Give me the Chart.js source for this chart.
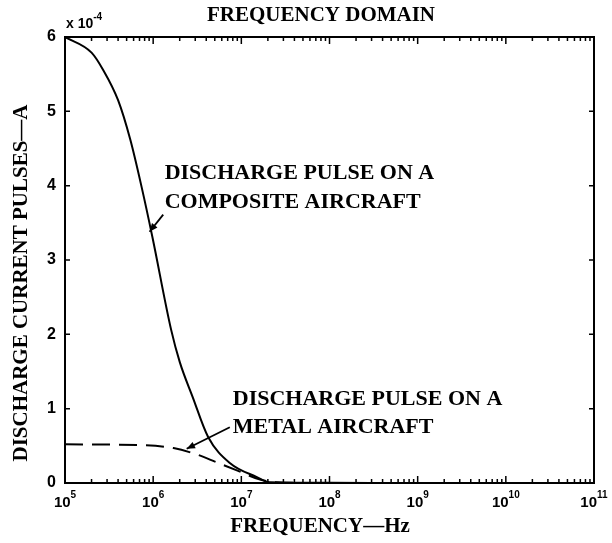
<!DOCTYPE html>
<html>
<head>
<meta charset="utf-8">
<script src="https://cdn.jsdelivr.net/npm/chart.js@4/dist/chart.umd.min.js"></script>
<style>
  body { margin: 0; background: #fff; }
  canvas { display: block; }
</style>
</head>
<body>
<canvas id="chart" width="612" height="543"></canvas>
<script>
// values (current in units of 1e-4 A)
const compositeFreq = [1e5, 2.0e5, 2.7e5, 4.0e5, 5.5e5, 7.4e5, 9.8e5, 1.6e6, 2.0e6, 2.8e6, 4.2e6, 7.4e6, 1.5e7, 2.1e7, 1e8, 1e9, 1e10, 1e11];
const compositeCurrent = [6.0, 5.79, 5.56, 5.15, 4.62, 3.98, 3.31, 2.06, 1.63, 1.16, 0.62, 0.27, 0.08, 0.01, 0.003, 0, 0, 0];

const metalFreq = [1e5, 7e5, 1.7e6, 3.2e6, 5.2e6, 8.9e6, 1.7e7, 3e7, 1e8, 1e9, 1e10, 1e11];
const metalCurrent = [0.52, 0.51, 0.47, 0.38, 0.28, 0.17, 0.04, 0.005, 0, 0, 0, 0];

const decades = [1e5, 1e6, 1e7, 1e8, 1e9, 1e10, 1e11];
const decadeExp = [5, 6, 7, 8, 9, 10, 11];
const yTicks = [0, 1, 2, 3, 4, 5, 6];

const titleText = 'FREQUENCY DOMAIN';
const xTitle = 'FREQUENCY\u2014Hz';
const yTitle = 'DISCHARGE CURRENT PULSES\u2014A';

// annotation text: anchor [freq, current] for left/middle of each line
const notes = [
  { lines: ['DISCHARGE PULSE ON A', 'COMPOSITE AIRCRAFT'], at: [[1.35e6, 4.17], [1.35e6, 3.77]],
    arrow: [[1.3e6, 3.61], [9.1e5, 3.38]] },
  { lines: ['DISCHARGE PULSE ON A', 'METAL AIRCRAFT'], at: [[8.0e6, 1.12], [8.0e6, 0.75]],
    arrow: [[7.4e6, 0.75], [2.4e6, 0.46]] }
];

const serif = "'Liberation Serif', 'Times New Roman', serif";
const sans = "'Liberation Sans Narrow', 'Liberation Sans', Arial, sans-serif";

const decor = {
  id: 'decor',
  afterDatasetsDraw(chart) {
    const ctx = chart.ctx;
    const a = chart.chartArea;
    const xs = chart.scales.x, ys = chart.scales.y;
    ctx.save();
    ctx.strokeStyle = '#000';
    ctx.fillStyle = '#000';

    // inward tick marks
    ctx.lineWidth = 1.5;
    ctx.beginPath();
    xs.ticks.forEach(t => {
      const px = xs.getPixelForValue(t.value);
      const len = t.major ? 7 : 4;
      ctx.moveTo(px, a.bottom); ctx.lineTo(px, a.bottom - len);
      ctx.moveTo(px, a.top); ctx.lineTo(px, a.top + len);
    });
    ys.ticks.forEach(t => {
      const py = ys.getPixelForValue(t.value);
      ctx.moveTo(a.left, py); ctx.lineTo(a.left + 5, py);
      ctx.moveTo(a.right, py); ctx.lineTo(a.right - 5, py);
    });
    ctx.stroke();

    // frame
    ctx.lineWidth = 2;
    ctx.strokeRect(a.left, a.top, a.right - a.left, a.bottom - a.top);

    // x tick labels: 10 with raised exponent
    ctx.textBaseline = 'alphabetic';
    ctx.textAlign = 'left';
    decades.forEach((d, i) => {
      const px = xs.getPixelForValue(d);
      ctx.font = 'bold 15px ' + sans;
      const wb = ctx.measureText('10').width;
      ctx.font = 'bold 10px ' + sans;
      const we = ctx.measureText(String(decadeExp[i])).width;
      const x0 = px - (wb + we) / 2;
      ctx.font = 'bold 15px ' + sans;
      ctx.fillText('10', x0, 507);
      ctx.font = 'bold 10px ' + sans;
      ctx.fillText(String(decadeExp[i]), x0 + wb, 498);
    });

    // title and axis titles
    ctx.font = 'bold 21px ' + serif;
    ctx.textAlign = 'center';
    ctx.textBaseline = 'middle';
    ctx.fillText(titleText, 321, 16);
    ctx.fillText(xTitle, 320, 527);
    ctx.save();
    ctx.translate(22, 283);
    ctx.rotate(-Math.PI / 2);
    ctx.fillText(yTitle, 0, 0);
    ctx.restore();

    // exponent marker
    ctx.textAlign = 'left';
    ctx.font = 'bold 14px ' + sans;
    ctx.fillText('x 10', a.left + 1, 24);
    const w = ctx.measureText('x 10').width;
    ctx.font = 'bold 10px ' + sans;
    ctx.fillText('-4', a.left + 1 + w, 17);

    // annotations
    ctx.font = 'bold 22px ' + serif;
    ctx.textAlign = 'left';
    notes.forEach(n => {
      n.lines.forEach((line, i) => {
        ctx.fillText(line, xs.getPixelForValue(n.at[i][0]), ys.getPixelForValue(n.at[i][1]));
      });
      const x0 = xs.getPixelForValue(n.arrow[0][0]), y0 = ys.getPixelForValue(n.arrow[0][1]);
      const x1 = xs.getPixelForValue(n.arrow[1][0]), y1 = ys.getPixelForValue(n.arrow[1][1]);
      ctx.lineWidth = 1.8;
      ctx.beginPath();
      ctx.moveTo(x0, y0); ctx.lineTo(x1, y1);
      ctx.stroke();
      const ang = Math.atan2(y1 - y0, x1 - x0);
      ctx.beginPath();
      ctx.moveTo(x1, y1);
      ctx.lineTo(x1 - 9 * Math.cos(ang - 0.4), y1 - 9 * Math.sin(ang - 0.4));
      ctx.lineTo(x1 - 9 * Math.cos(ang + 0.4), y1 - 9 * Math.sin(ang + 0.4));
      ctx.closePath();
      ctx.fill();
    });
    ctx.restore();
  }
};

const chart = new Chart(document.getElementById('chart'), {
  type: 'line',
  data: {
    datasets: [{
      label: 'Composite aircraft',
      data: compositeFreq.map((f, i) => ({ x: f, y: compositeCurrent[i] })),
      borderColor: '#000',
      borderWidth: 2,
      pointRadius: 0,
      cubicInterpolationMode: 'monotone'
    }, {
      label: 'Metal aircraft',
      data: metalFreq.map((f, i) => ({ x: f, y: metalCurrent[i] })),
      borderColor: '#000',
      borderWidth: 2,
      borderDash: [18, 9],
      pointRadius: 0,
      cubicInterpolationMode: 'monotone'
    }]
  },
  options: {
    responsive: false,
    animation: false,
    devicePixelRatio: 1,
    layout: { padding: { top: 37, right: 18, left: 0, bottom: 0 } },
    plugins: { legend: { display: false }, tooltip: { enabled: false } },
    scales: {
      x: {
        type: 'logarithmic',
        min: 1e5,
        max: 1e11,
        afterFit(s) { s.height = 60; },
        afterBuildTicks(s) {
          const t = [];
          decades.forEach((d, i) => {
            if (i === decades.length - 1) { t.push({ value: d, major: true }); return; }
            for (let m = 1; m <= 9; m++) t.push({ value: m * d, major: m === 1 });
          });
          s.ticks = t;
        },
        grid: { display: false, drawTicks: false },
        border: { display: false },
        ticks: { display: false, autoSkip: false }
      },
      y: {
        min: 0,
        max: 6,
        afterFit(s) { s.width = 65; },
        afterBuildTicks(s) { s.ticks = yTicks.map(v => ({ value: v })); },
        grid: { display: false, drawTicks: false },
        border: { display: false },
        ticks: {
          padding: 9,
          color: '#000',
          font: { family: sans, size: 16, weight: 'bold' }
        }
      }
    }
  },
  plugins: [decor]
});
</script>
</body>
</html>
